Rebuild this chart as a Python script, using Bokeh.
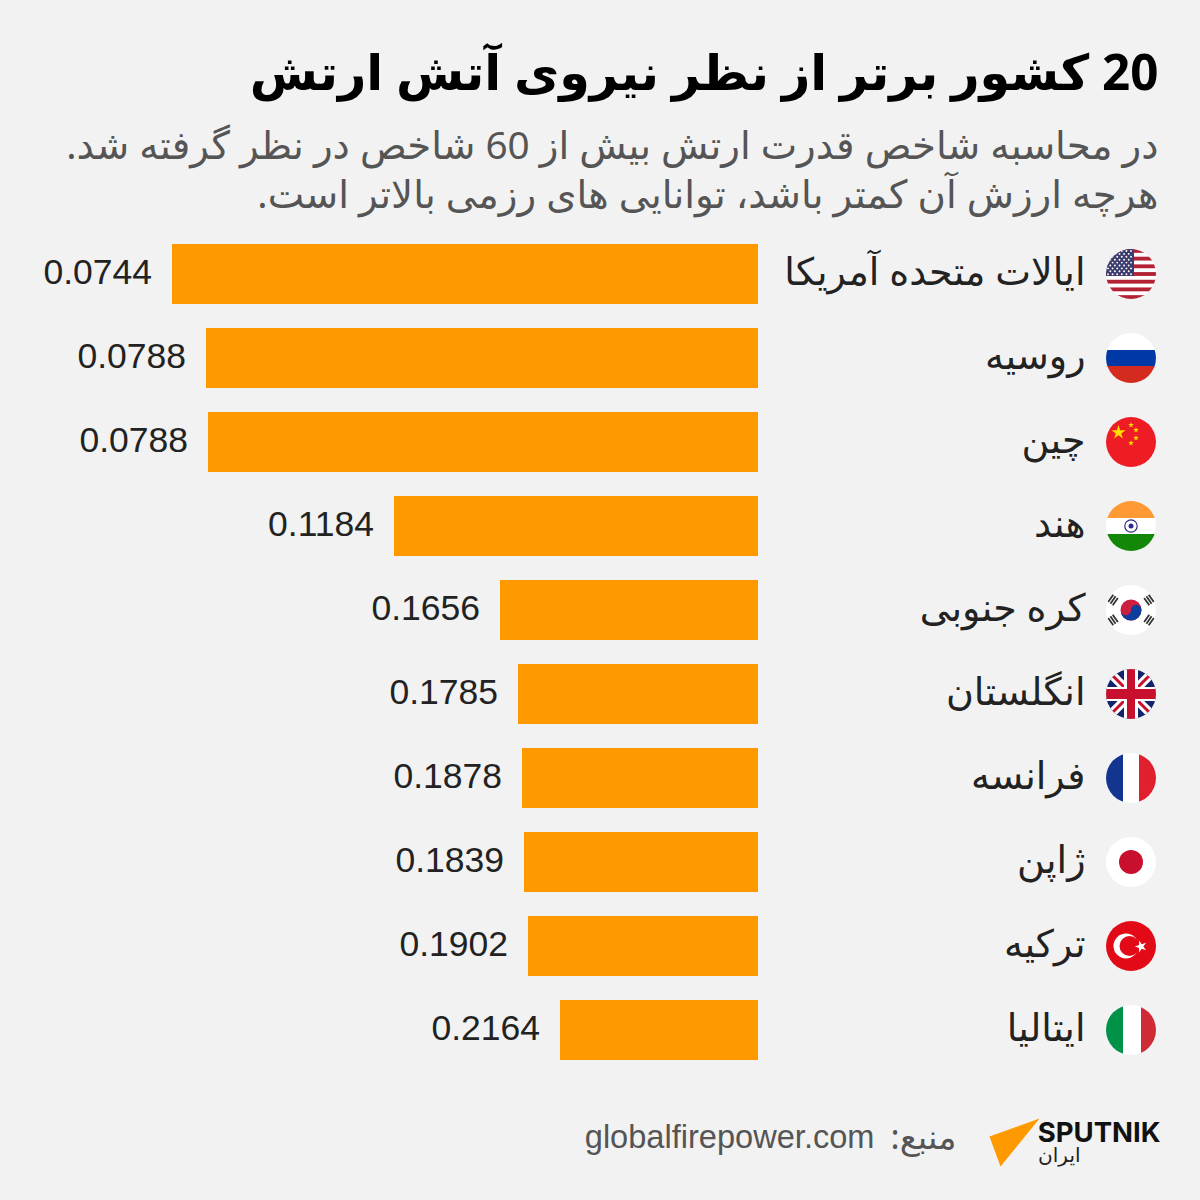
import base64, math
from bokeh.plotting import figure
from bokeh.models import Range1d, ColumnDataSource
from bokeh.core.properties import value
from bokeh.embed import file_html
from bokeh.resources import INLINE

RLM = "\u200f"
title = RLM + "20 کشور برتر از نظر نیروی آتش ارتش"
sub1 = "در محاسبه شاخص قدرت ارتش بیش از 60 شاخص در نظر گرفته شد." + RLM
sub2 = "هرچه ارزش آن کمتر باشد، توانایی های رزمی بالاتر است." + RLM
countries = ["ایالات متحده آمریکا", "روسیه", "چین", "هند", "کره جنوبی",
             "انگلستان", "فرانسه", "ژاپن", "ترکیه", "ایتالیا"]
value_labels = ["0.0744", "0.0788", "0.0788", "0.1184", "0.1656",
                "0.1785", "0.1878", "0.1839", "0.1902", "0.2164"]
bar_lengths = [586, 552, 550, 364, 258, 240, 236, 234, 230, 198]
flag_names = ["us", "ru", "cn", "in", "kr", "uk", "fr", "jp", "tr", "it"]
source_label = "منبع:" + RLM
source_site = "globalfirepower.com"
brand = "SPUTNIK"
brand_sub = "ایران"

BG = "#f2f2f2"
ARABIC = "Noto Sans, DejaVu Sans"
NUM = "Liberation Sans"


def star(cx, cy, r, rot=-90, inner=0.382):
    pts = []
    for i in range(10):
        rr = r if i % 2 == 0 else r * inner
        a = math.radians(rot + i * 36)
        pts.append(f"{cx + rr * math.cos(a):.2f},{cy + rr * math.sin(a):.2f}")
    return f'<polygon points="{" ".join(pts)}" fill="FILL"/>'


def rect(x, y, w, h, c):
    return f'<rect x="{x}" y="{y}" width="{w}" height="{h}" fill="{c}"/>'


def flag_body(name):
    if name == "us":
        s = rect(0, 0, 50, 50, "#fff")
        for i in range(0, 13, 2):
            s += rect(0, i * 50 / 13, 50, 50 / 13, "#b22234")
        s += rect(0, 0, 28, 27, "#3c3b6e")
        for r in range(9):
            for c in range(6 if r % 2 == 0 else 5):
                x = 2 + c * 4.6 + (2.3 if r % 2 else 0)
                s += f'<circle cx="{x:.1f}" cy="{2 + r * 2.9:.1f}" r="0.95" fill="#fff"/>'
        return s
    if name == "ru":
        return rect(0, 0, 50, 17, "#fff") + rect(0, 17, 50, 17, "#0039a6") + rect(0, 33, 50, 17, "#d52b1e")
    if name == "cn":
        s = rect(0, 0, 50, 50, "#ee1c25") + star(12.5, 15.5, 7.5).replace("FILL", "#ffde00")
        for x, y in [(25, 8), (30, 13), (30, 21), (25, 26)]:
            s += star(x, y, 3).replace("FILL", "#ffde00")
        return s
    if name == "in":
        s = rect(0, 0, 50, 17, "#ff9933") + rect(0, 17, 50, 17, "#fff") + rect(0, 33, 50, 17, "#138808")
        s += '<circle cx="25" cy="25" r="6.2" fill="#fff" stroke="#2b2b86" stroke-width="1.2"/>'
        s += '<circle cx="25" cy="25" r="2.5" fill="#2b2b86"/>'
        return s
    if name == "kr":
        s = rect(0, 0, 50, 50, "#fff")
        s += '<circle cx="25" cy="25" r="10.5" fill="#cd1f40"/>'
        s += '<path d="M14.5 25 A10.5 10.5 0 0 0 35.5 25 A5.25 5.25 0 0 0 25 25 A5.25 5.25 0 0 1 14.5 25 Z" fill="#0b3f9b"/>'
        for ang, (dx, dy) in [(-55, (-18, -10)), (55, (18, -10)), (55, (-18, 10)), (-55, (18, 10))]:
            g = ""
            for k in (-2.8, 0, 2.8):
                g += f'<rect x="-4.5" y="{k - 0.9}" width="9" height="1.8" fill="#333"/>'
            s += f'<g transform="translate({25 + dx:.1f},{25 + dy:.1f}) rotate({ang})">{g}</g>'
        return s
    if name == "uk":
        s = rect(0, 0, 50, 50, "#14246b")
        s += '<path d="M0 0L50 50M50 0L0 50" stroke="#fff" stroke-width="9"/>'
        s += '<path d="M0 0L50 50M50 0L0 50" stroke="#c8102e" stroke-width="3"/>'
        s += rect(0, 18, 50, 14, "#fff") + rect(18, 0, 14, 50, "#fff")
        s += rect(0, 20, 50, 10, "#c8102e") + rect(21, 0, 8, 50, "#c8102e")
        return s
    if name == "fr":
        return rect(0, 0, 17, 50, "#14358f") + rect(17, 0, 16, 50, "#fff") + rect(33, 0, 17, 50, "#e0202f")
    if name == "jp":
        return rect(0, 0, 50, 50, "#fff") + '<circle cx="25" cy="25" r="12" fill="#c8102e"/>'
    if name == "tr":
        s = rect(0, 0, 50, 50, "#e30a17")
        s += '<circle cx="20" cy="25" r="12.5" fill="#fff"/><circle cx="23.5" cy="25" r="10" fill="#e30a17"/>'
        s += star(35, 25.5, 6.2, rot=180).replace("FILL", "#fff")
        return s
    return rect(0, 0, 17, 50, "#009246") + rect(17, 0, 18, 50, "#fff") + rect(35, 0, 15, 50, "#ce2b37")


def flag_uri(name):
    svg = ('<svg xmlns="http://www.w3.org/2000/svg" width="50" height="50" viewBox="0 0 50 50">'
           '<defs><clipPath id="c"><circle cx="25" cy="25" r="25"/></clipPath></defs>'
           f'<g clip-path="url(#c)">{flag_body(name)}</g></svg>')
    return "data:image/svg+xml;base64," + base64.b64encode(svg.encode()).decode()


p = figure(width=1200, height=1200, output_backend="svg", toolbar_location=None,
           x_range=Range1d(0, 1200), y_range=Range1d(1200, 0), min_border=0,
           background_fill_color=BG, border_fill_color=BG, outline_line_color=None)
p.axis.visible = False
p.grid.visible = False
# bar scale: length 0 sits at the bars' right-hand baseline; rank scale: rows
p.extra_x_ranges["len"] = Range1d(757.5, 757.5 - 1200)
p.extra_y_ranges["rank"] = Range1d((1200 - 273.5) / 84, -273.5 / 84)

ranks = list(range(len(countries)))
src = ColumnDataSource(dict(rank=ranks, length=bar_lengths, labels=value_labels,
                            names=countries, zero=[0] * 10,
                            flags=[flag_uri(n) for n in flag_names]))

p.hbar(y="rank", left="zero", right="length", height=60 / 84, source=src,
       color="#ff9900", line_color=None, x_range_name="len", y_range_name="rank")

p.text(x="length", y="rank", text="labels", source=src, x_range_name="len", y_range_name="rank",
       x_offset=-20, y_offset=-2.5, text_align="right", text_baseline="middle",
       text_font=value(NUM), text_font_size="35.5px", text_color="#222222")
p.text(x=1085, y="rank", text="names", source=src, y_range_name="rank",
       y_offset=-4, text_align="right", text_baseline="middle",
       text_font=value(ARABIC), text_font_size="38px", text_color="#222222")
p.image_url(url="flags", x=1130.5, y="rank", w=50, h=50, w_units="screen", h_units="screen",
            anchor="center", source=src, y_range_name="rank")


def t(x, y, s, size, color, font=ARABIC, style="normal"):
    p.text(x=[x], y=[y], text=[s], text_align="right", text_baseline="alphabetic",
           text_font=value(font), text_font_size=size, text_color=color, text_font_style=style)


t(1158, 70, title, "49.3px", "#000000", style="bold")
t(1158, 143, sub1, "38.7px", "#555555")
t(1158, 192.5, sub2, "38.7px", "#555555")
t(956, 1135, source_label, "34px", "#555555")
t(874, 1136, source_site, "32.6px", "#555555", font=NUM)
t(1160, 1131, brand, "27.5px", "#111111", font="Inter", style="bold")
t(1080, 1154, brand_sub, "20px", "#222222")

p.patch(x=[989, 1039, 1000], y=[1136, 1118, 1166], color="#ff9900", line_color=None)

html = file_html(p, INLINE)
html = html.replace("<body>", f'<body style="margin:0;background:{BG};overflow:hidden">')
open("out.html", "w").write(html)
